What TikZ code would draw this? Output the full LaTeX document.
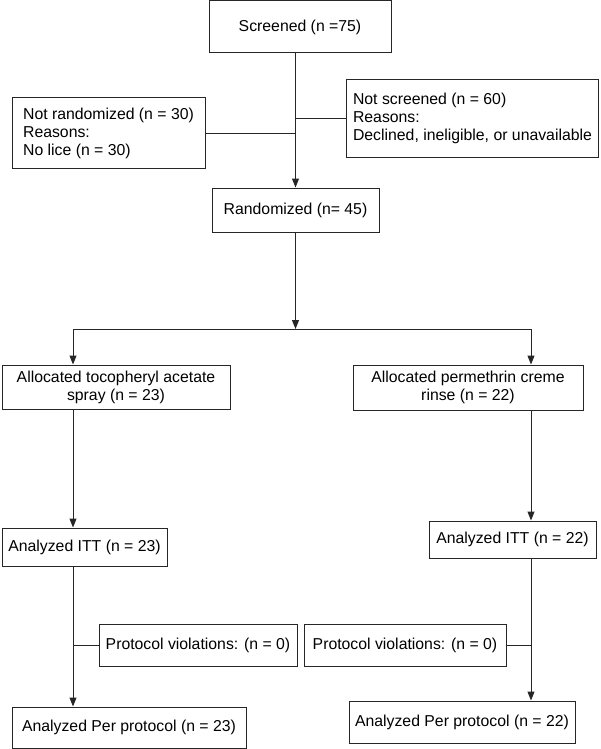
\documentclass[tikz,border=0pt]{standalone}
\usepackage{fontspec}
\setmainfont{Liberation Sans}
\usetikzlibrary{arrows.meta,positioning}

\begin{document}
\begin{tikzpicture}[x=1pt,y=-1pt,
    every node/.style={font=\fontsize{15.8}{18}\selectfont},
    box/.style={draw=black!85,line width=1pt,inner sep=0pt},
    link/.style={draw=black!85,line width=1pt},
    arr/.style={link,-{Triangle[length=9pt,width=7pt]}}]
  \useasboundingbox (0,0) rectangle (600,749);
  % top of the flow
  \node[box,minimum width=182pt,minimum height=52pt] (scr) at (300,27)
    {Screened (n =75)};
  \node[box,align=left,minimum width=193pt,minimum height=70pt] (nrand) at (108.5,133)
    {Not randomized (n = 30)\\Reasons:\\No lice (n = 30)};
  \node[box,align=left,minimum width=252pt,minimum height=77pt] (nscr) at (472.5,118.5)
    {Not screened (n = 60)\\Reasons:\\Declined, ineligible, or unavailable};
  \node[box,minimum width=167pt,minimum height=44pt] (rand) at (295.5,210)
    {Randomized (n= 45)};
  % the two arms
  \node[box,align=center,minimum width=228pt,minimum height=44pt] (allocA) at (116,387)
    {Allocated tocopheryl acetate\\spray (n = 23)};
  \node[box,align=center,minimum width=230pt,minimum height=45pt] (allocB) at (468,387.5)
    {Allocated permethrin creme\\rinse (n = 22)};
  \node[box,minimum width=165pt,minimum height=38pt] (ittA) at (84.5,547)
    {Analyzed ITT (n = 23)};
  \node[box,minimum width=167pt,minimum height=37pt] (ittB) at (512.5,539.5)
    {Analyzed ITT (n = 22)};
  \node[box,minimum width=198pt,minimum height=42pt] (pvA) at (198,645)
    {Protocol violations: (n = 0)};
  \node[box,minimum width=202pt,minimum height=42pt] (pvB) at (405,645)
    {Protocol violations: (n = 0)};
  \node[box,minimum width=234pt,minimum height=41pt] (ppA) at (129,727.5)
    {Analyzed Per protocol (n = 23)};
  \node[box,minimum width=226pt,minimum height=42pt] (ppB) at (462,722)
    {Analyzed Per protocol (n = 22)};
  \coordinate (split) at (295.5,329);
  \coordinate (colA) at (73,329);
  \coordinate (colB) at (531,329);
  % connectors
  \draw[arr] (rand.north |- scr.south) -- (rand.north);
  \draw[link] (nrand.east) -- (nrand.east -| rand.north);
  \draw[link] (nscr.west) -- (nscr.west -| rand.north);
  \draw[arr] (rand.south) -- (split);
  \draw[link] (colA) -- (colB);
  \foreach \colx/\alloc/\itt/\pp in {colA/allocA/ittA/ppA,colB/allocB/ittB/ppB}{
    \draw[arr] (\colx) -- (\colx |- \alloc.north);
    \draw[arr] (\colx |- \alloc.south) -- (\colx |- \itt.north);
    \draw[arr] (\colx |- \itt.south) -- (\colx |- \pp.north);
  }
  \draw[link] (pvA.west) -- (pvA.west -| colA);
  \draw[link] (pvB.east) -- (pvB.east -| colB);
\end{tikzpicture}
\end{document}
